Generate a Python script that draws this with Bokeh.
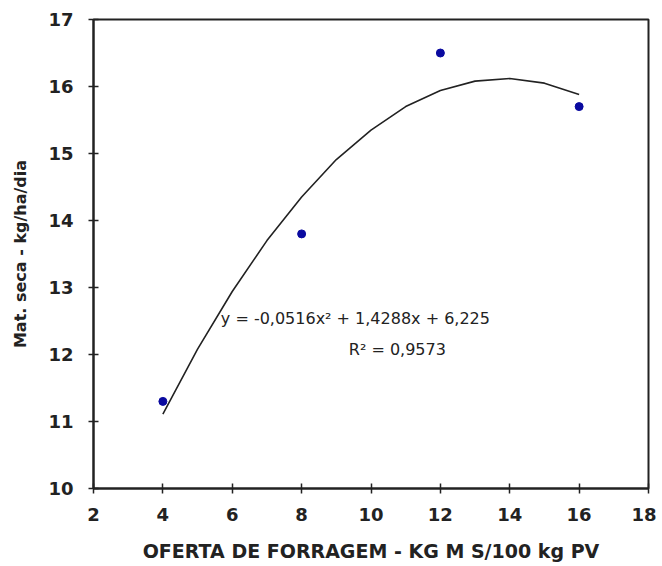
from bokeh.plotting import figure
from bokeh.models import Range1d, FixedTicker, Label
from bokeh.embed import file_html
from bokeh.resources import INLINE

# data points
oferta = [4, 8, 12, 16]
mat_seca = [11.3, 13.8, 16.5, 15.7]

# trendline
trend_x = [4, 5, 6, 7, 8, 9, 10, 11, 12, 13, 14, 15, 16]
trend_y = [11.11, 12.08, 12.94, 13.70, 14.35, 14.91, 15.35, 15.70, 15.94, 16.08, 16.12, 16.05, 15.88]

x_ticks = [2, 4, 6, 8, 10, 12, 14, 16, 18]
y_ticks = [10, 11, 12, 13, 14, 15, 16, 17]

equation = "y = -0,0516x² + 1,4288x + 6,225"
r2_text = "R² = 0,9573"
x_title = "OFERTA DE FORRAGEM - KG M S/100 kg PV"
y_title = "Mat. seca - kg/ha/dia"

FONT = "DejaVu Sans"

p = figure(width=656, height=564, output_backend="svg", toolbar_location=None,
           x_range=Range1d(2, 18), y_range=Range1d(10, 17),
           min_border_left=93, min_border_right=8, min_border_top=19, min_border_bottom=71)

p.background_fill_color = "white"
p.border_fill_color = "white"
p.outline_line_color = "#222222"
p.outline_line_width = 2
p.xgrid.visible = False
p.ygrid.visible = False

for ax, ticks in ((p.xaxis[0], x_ticks), (p.yaxis[0], y_ticks)):
    ax.ticker = FixedTicker(ticks=ticks)
    ax.axis_line_color = "#222222"
    ax.axis_line_width = 2
    ax.major_tick_line_color = "#222222"
    ax.major_tick_line_width = 1.5
    ax.major_tick_in = 5
    ax.major_tick_out = 5
    ax.minor_tick_line_color = None
    ax.major_label_text_font = FONT
    ax.major_label_text_font_style = "bold"
    ax.major_label_text_font_size = "18px"
    ax.major_label_text_color = "#222222"
    ax.axis_label_text_font = FONT
    ax.axis_label_text_font_style = "bold"
    ax.axis_label_text_color = "#222222"

p.xaxis.major_label_standoff = 14
p.yaxis.major_label_standoff = 15
p.xaxis.axis_label = x_title
p.yaxis.axis_label = y_title
p.xaxis.axis_label_text_font_size = "19px"
p.yaxis.axis_label_text_font_size = "16px"
p.xaxis.axis_label_standoff = 16
p.yaxis.axis_label_standoff = 15

p.line(trend_x, trend_y, line_color="#222222", line_width=1.6)
p.scatter(oferta, mat_seca, marker="circle", size=8, fill_color="#0a0aa0", line_color="#0a0aa0")

p.add_layout(Label(x=9.55, y=12.53, text=equation, text_align="center", text_baseline="middle",
                   text_font=FONT, text_font_size="16px", text_color="#222222"))
p.add_layout(Label(x=10.76, y=12.08, text=r2_text, text_align="center", text_baseline="middle",
                   text_font=FONT, text_font_size="16px", text_color="#222222"))

open("out.html", "w").write(file_html(p, INLINE))
